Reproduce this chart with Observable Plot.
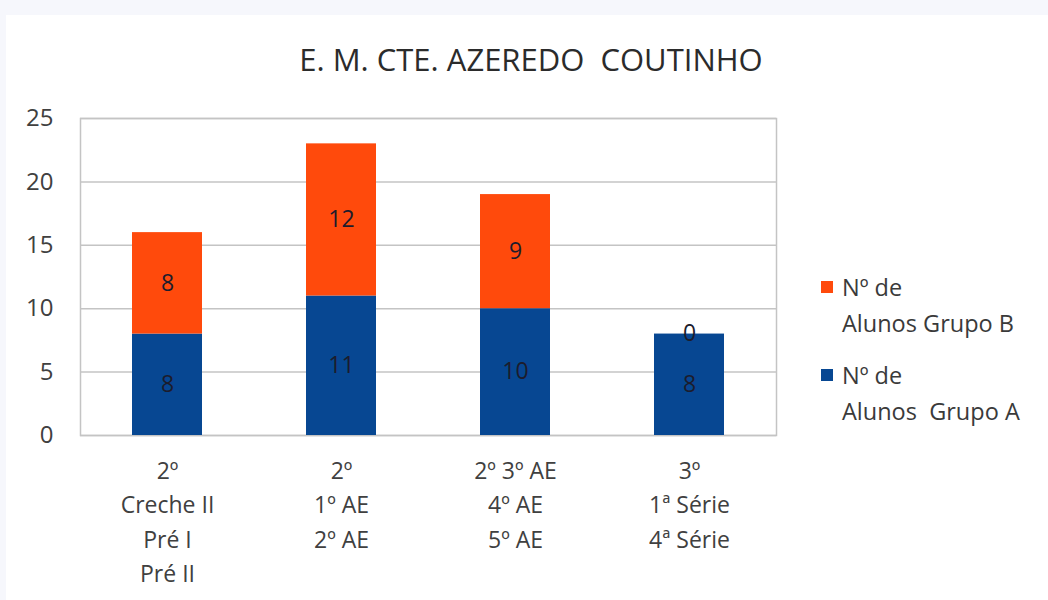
<!DOCTYPE html>
<html>
<head>
<meta charset="utf-8">
<script src="https://cdn.jsdelivr.net/npm/d3@7"></script>
<script src="https://cdn.jsdelivr.net/npm/@observablehq/plot@0.6"></script>
<style>
  html, body { margin: 0; padding: 0; }
  body { width: 1048px; height: 600px; background: #f6f7fc; position: relative; overflow: hidden; font-family: "Open Sans", sans-serif; }
  #panel { position: absolute; left: 6px; top: 15px; width: 1042px; height: 585px; background: #ffffff; }
  #chart { position: absolute; left: 0; top: 0; }
  #title { position: absolute; left: 0; width: 1062px; top: 38px; text-align: center; font-size: 31px; color: #2b2b2b; white-space: pre; }
  #legend { position: absolute; left: 821px; top: 269px; font-size: 23.5px; color: #3a3a3a; line-height: 36px; }
  .item { position: relative; padding-left: 21px; margin-bottom: 16px; white-space: pre; }
  .sw { position: absolute; left: 0; top: 12px; width: 12px; height: 12px; }
</style>
</head>
<body>
<div id="panel"></div>
<div id="chart"></div>
<div id="title">E. M. CTE. AZEREDO  COUTINHO</div>
<div id="legend"></div>
<script>
const categories = [
  "2º\nCreche II\nPré I\nPré II",
  "2º\n1º AE\n2º AE",
  "2º 3º AE\n4º AE\n5º AE",
  "3º\n1ª Série\n4ª Série"
];
const seriesNames = ["Nº de\nAlunos  Grupo A", "Nº de\nAlunos Grupo B"];
const grupoA = [8, 11, 10, 8];
const grupoB = [8, 12, 9, 0];
const yTicks = [0, 5, 10, 15, 20, 25];
const colors = ["#074792", "#ff4a0c"];

const rows = [];
categories.forEach((c, i) => rows.push({cat: c, grupo: seriesNames[0], value: grupoA[i]}));
categories.forEach((c, i) => rows.push({cat: c, grupo: seriesNames[1], value: grupoB[i]}));

const chart = Plot.plot({
  width: 1048,
  height: 600,
  marginLeft: 80,
  marginRight: 272,
  marginTop: 118,
  marginBottom: 165,
  style: {background: "transparent", fontFamily: "Open Sans, sans-serif", color: "#404040"},
  x: {type: "band", domain: categories, paddingInner: 0.6, paddingOuter: 0.3, label: null},
  y: {domain: [0, 25], label: null},
  color: {domain: seriesNames, range: colors},
  marks: [
    Plot.ruleY(yTicks, {stroke: "#c4c4c4", strokeWidth: 1.5}),
    Plot.frame({stroke: "#c4c4c4", strokeWidth: 1.5}),
    Plot.barY(rows, {x: "cat", y: "value", fill: "grupo"}),
    Plot.text(rows, Plot.stackY({x: "cat", y: "value", text: d => String(d.value), fill: "#1c1c2c", fontSize: 23})),
    Plot.axisX({tickSize: 0, tickPadding: 19, fontSize: 23, lineHeight: 1.5, fill: "#404040"}),
    Plot.axisY({ticks: yTicks, tickSize: 0, tickPadding: 27, fontSize: 24, fill: "#404040"})
  ]
});
document.getElementById("chart").appendChild(chart);

const legend = document.getElementById("legend");
[1, 0].forEach(i => {
  const item = document.createElement("div");
  item.className = "item";
  const sw = document.createElement("span");
  sw.className = "sw";
  sw.style.background = colors[i];
  item.appendChild(sw);
  item.appendChild(document.createTextNode(seriesNames[i]));
  legend.appendChild(item);
});
</script>
</body>
</html>
